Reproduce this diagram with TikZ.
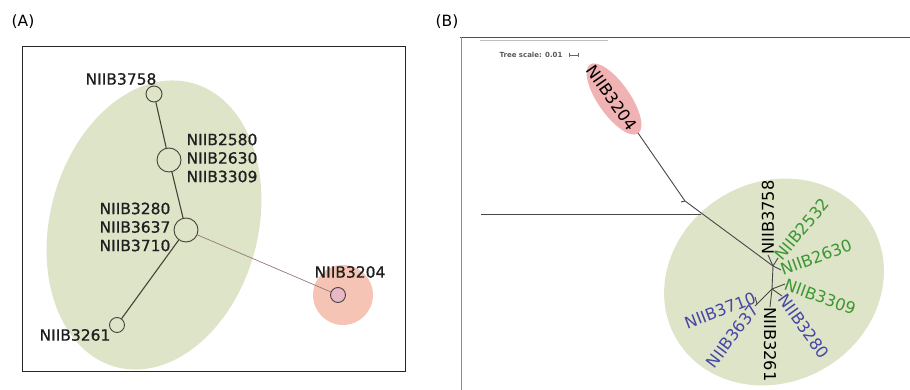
\documentclass[tikz,border=0pt]{standalone}
\usepackage{fontspec}
\setmainfont{DejaVu Sans}
\newfontfamily\semibfont[FakeBold=0.8]{DejaVu Sans}
\usetikzlibrary{shapes.geometric}
\definecolor{clgreen}{RGB}{222,228,200}
\definecolor{clpink}{RGB}{246,196,180}
\definecolor{clpinkB}{RGB}{240,178,178}
\definecolor{edgecol}{RGB}{70,66,56}
\definecolor{lgreen}{RGB}{60,150,50}
\definecolor{lblue}{RGB}{70,70,165}
\definecolor{hpink}{RGB}{232,184,200}
\begin{document}
\begin{tikzpicture}[x=1pt,y=-1pt,
  lblA/.style={font=\semibfont\fontsize{15.5}{18.5}\selectfont, text=black!88, inner sep=0pt},
  lblB/.style={font=\fontsize{16.3}{18}\selectfont, text=black, inner sep=0pt},
  hap/.style={circle, draw=edgecol, line width=0.9pt, fill=clgreen, inner sep=0pt},
  link/.style={draw=edgecol, line width=1.1pt},
  branch/.style={draw=black!72, line width=0.9pt},
]
\useasboundingbox (0,0) rectangle (910,390);
% ---------------- Panel A ----------------
\node[font=\fontsize{15.5}{18}\selectfont, inner sep=0pt] (labA) at (23,22) {(A)};
\fill[clgreen, shift={(154,225)}, rotate=-15] (0,0) ellipse (104pt and 147pt);
\fill[clpink] (343,295) circle[radius=30pt];
\draw[line width=1pt, black!85] (22,47) rectangle (405,371);
\node[hap, minimum size=16pt] (n3758) at (154,94) {};
\node[hap, minimum size=24pt] (n2580) at (169,160) {};
\node[hap, minimum size=24pt] (n3280) at (186,230) {};
\node[hap, minimum size=15pt] (n3261) at (117,325) {};
\node[hap, minimum size=15pt, fill=hpink] (n3204) at (338,295) {};
\draw[link] (n3758) -- (n2580);
\draw[link] (n2580) -- (n3280);
\draw[link] (n3280) -- (n3261);
\draw[link, draw={rgb,255:red,150;green,120;blue,120}, line width=0.7pt] (n3280) -- (n3204);
\node[lblA] (t3758) at (121,79) {NIIB3758};
\node[lblA, align=left] (t2580) at (222,158) {NIIB2580\\NIIB2630\\NIIB3309};
\node[lblA, align=right] (t3280) at (135,227) {NIIB3280\\NIIB3637\\NIIB3710};
\node[lblA] (t3261) at (75,335) {NIIB3261};
\node[lblA] (t3204) at (350,272) {NIIB3204};
% ---------------- Panel B ----------------
\node[font=\fontsize{15.5}{18}\selectfont, inner sep=0pt] (labB) at (447,22) {(B)};
\draw[black!70, line width=0.8pt] (460,37) -- (910,37);
\draw[black!45, line width=0.6pt] (461,37) -- (461,390);
\draw[black!25, line width=1pt] (480,41) -- (608,41);
\node[font=\bfseries\fontsize{7}{8}\selectfont, text=black!65, inner sep=0pt] (ts) at (531,55) {Tree scale: 0.01};
\draw[black!60, line width=0.6pt] (569,55) -- (578,55);
\draw[black!60, line width=0.6pt] (569,53) -- (569,57);
\draw[black!60, line width=0.6pt] (578,53) -- (578,57);
\fill[clgreen, shift={(774,282)}, rotate=30] (0,0) ellipse (113pt and 100pt);
\fill[clpinkB, shift={(614,99)}, rotate=-55] (0,0) ellipse (42pt and 16pt);
\node[lblB, rotate=-55] (b3204) at (612,98) {NIIB3204};
\coordinate (hl) at (481,214);
\coordinate (j) at (701,214);
\coordinate (p) at (638,133);
\coordinate (k) at (685,201);
\coordinate (A) at (773,266);
\coordinate (B) at (772,289);
\coordinate (C) at (757,304);
\draw[branch] (hl) -- (j);
\draw[branch] (p) -- (k) -- (A);
\draw[branch] (k) -- ++(-4,1);
\draw[branch] (A) -- (B);
\draw[branch] (B) -- (C);
\node[lblB, rotate=90, anchor=west] (b3758) at (768,255) {NIIB3758};
\node[lblB, text=lgreen, rotate=50, anchor=west] (b2532) at (778,258) {NIIB2532};
\node[lblB, text=lgreen, rotate=20, anchor=west] (b2630) at (781,270) {NIIB2630};
\node[lblB, text=lgreen, rotate=-20, anchor=west] (b3309) at (785,284) {NIIB3309};
\node[lblB, text=lblue, rotate=-54, anchor=west] (b3280) at (782,296) {NIIB3280};
\node[lblB, rotate=-90, anchor=west] (b3261) at (770,307) {NIIB3261};
\node[lblB, text=lblue, rotate=21, anchor=east] (b3710) at (755,297) {NIIB3710};
\node[lblB, text=lblue, rotate=53, anchor=east] (b3637) at (755,306) {NIIB3637};
\draw[branch] (A) -- (b3758.west);
\draw[branch] (A) -- (b2532.west);
\draw[branch] (A) -- (b2630.west);
\draw[branch] (B) -- (b3309.west);
\draw[branch] (B) -- (b3280.west);
\draw[branch] (B) -- (b3261.west);
\draw[branch] (C) -- (b3710.east);
\draw[branch] (C) -- (b3637.east);
\end{tikzpicture}
\end{document}
